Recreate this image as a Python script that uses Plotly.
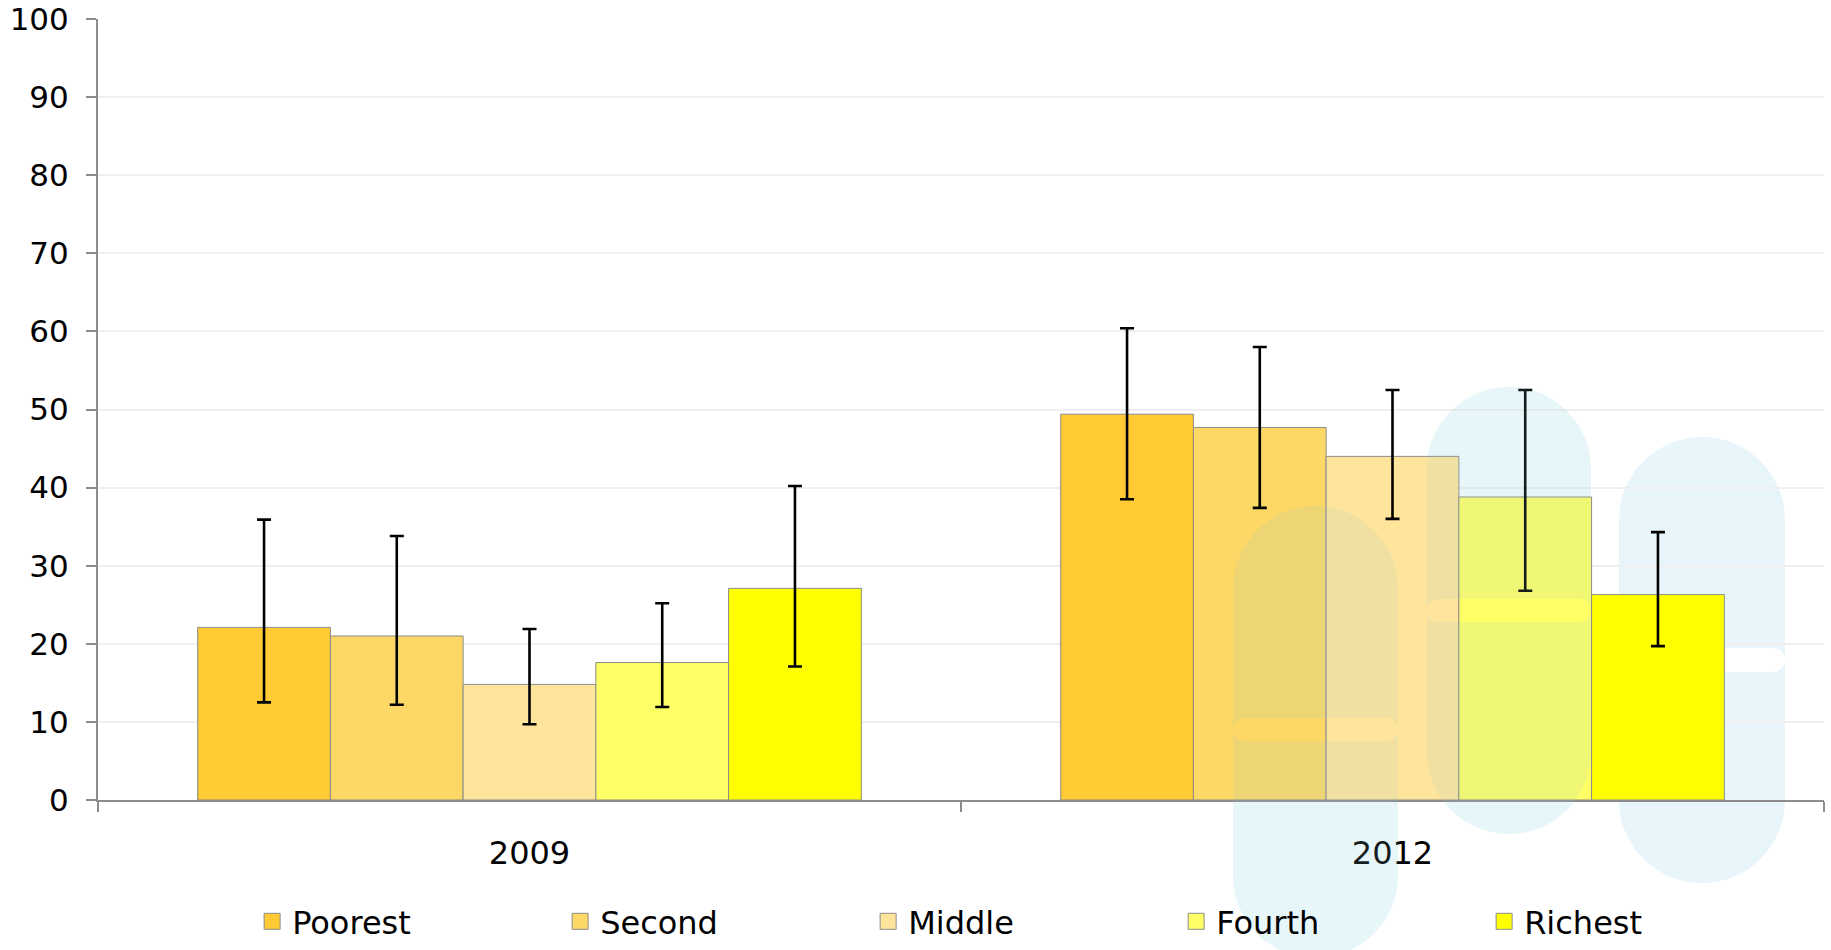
import plotly.graph_objects as go

years = ["2009", "2012"]
groups = ["Poorest", "Second", "Middle", "Fourth", "Richest"]
values = {
    "Poorest": [22.1, 49.4],
    "Second": [21.0, 47.7],
    "Middle": [14.8, 44.0],
    "Fourth": [17.6, 38.8],
    "Richest": [27.1, 26.3],
}
upper = {
    "Poorest": [35.9, 60.4],
    "Second": [33.8, 58.0],
    "Middle": [21.9, 52.5],
    "Fourth": [25.2, 52.5],
    "Richest": [40.2, 34.3],
}
lower = {
    "Poorest": [12.5, 38.5],
    "Second": [12.2, 37.4],
    "Middle": [9.7, 36.0],
    "Fourth": [11.9, 26.8],
    "Richest": [17.1, 19.7],
}
colors = ["#FFCA33", "#FDD866", "#FFE59B", "#FFFF66", "#FFFF00"]
y_ticks = list(range(0, 101, 10))

W, H = 1831, 950
ML, MR, MT, MB = 98, 7, 19, 150
PW, PH = W - ML - MR, H - MT - MB
FONT = "DejaVu Sans"

fig = go.Figure()
for g, c in zip(groups, colors):
    v = values[g]
    fig.add_trace(go.Bar(
        name=g, x=years, y=v,
        marker=dict(color=c, line=dict(color="#8C8C8C", width=1)),
        error_y=dict(type="data", symmetric=False,
                     array=[u - a for u, a in zip(upper[g], v)],
                     arrayminus=[a - l for a, l in zip(v, lower[g])],
                     color="black", thickness=2.6, width=7),
        showlegend=False,
    ))
    # legend proxy
    fig.add_trace(go.Scatter(
        name=g, x=[None], y=[None], mode="markers",
        marker=dict(symbol="square", size=16, color=c,
                    line=dict(color="#8C8C8C", width=1)),
        showlegend=True,
    ))

# watermark (decorative logo), pixel -> paper conversion
def P(px, py):
    return (px - ML) / PW, 1 - (py - MT) / PH

K = 0.5523

def capsule(x0, x1, y0, y1):
    r = (x1 - x0) / 2
    cx = (x0 + x1) / 2
    return [
        ("M", [(x0, y0 + r)]),
        ("C", [(x0, y0 + r - K * r), (cx - K * r, y0), (cx, y0)]),
        ("C", [(cx + K * r, y0), (x1, y0 + r - K * r), (x1, y0 + r)]),
        ("L", [(x1, y1 - r)]),
        ("C", [(x1, y1 - r + K * r), (cx + K * r, y1), (cx, y1)]),
        ("C", [(cx - K * r, y1), (x0, y1 - r + K * r), (x0, y1 - r)]),
        ("Z", []),
    ]

def stadium(x0, x1, y0, y1):
    r = (y1 - y0) / 2
    cy = (y0 + y1) / 2
    return [
        ("M", [(x0 + r, y0)]),
        ("L", [(x1 - r, y0)]),
        ("C", [(x1 - r + K * r, y0), (x1, cy - K * r), (x1, cy)]),
        ("C", [(x1, cy + K * r), (x1 - r + K * r, y1), (x1 - r, y1)]),
        ("L", [(x0 + r, y1)]),
        ("C", [(x0 + r - K * r, y1), (x0, cy + K * r), (x0, cy)]),
        ("C", [(x0, cy - K * r), (x0 + r - K * r, y0), (x0 + r, y0)]),
        ("Z", []),
    ]

def to_path(parts):
    s = ""
    for cmd, pts in parts:
        s += cmd
        s += " ".join("%.5f,%.5f" % P(x, y) for x, y in pts)
        s += " "
    return s.strip()

# (capsule, hole, tinted-over-bars)
logo = [
    ((1233, 1398, 506, 958), (1233, 1398, 718, 741), True),
    ((1427, 1591, 387, 834), (1427, 1591, 599, 622), True),
    ((1619, 1785, 437, 883), (1619, 1785, 648, 672), False),
]
for cap, hole, tint in logo:
    path = to_path(capsule(*cap) + stadium(*hole))
    if tint:
        fig.add_shape(type="path", path=path, xref="paper", yref="paper",
                      fillcolor="rgb(245,254,255)", opacity=1,
                      line=dict(width=0), layer="below", fillrule="evenodd")
        fig.add_shape(type="path", path=path, xref="paper", yref="paper",
                      fillcolor="rgb(150,195,205)", opacity=0.14,
                      line=dict(width=0), layer="above", fillrule="evenodd")
    else:
        fig.add_shape(type="path", path=path, xref="paper", yref="paper",
                      fillcolor="rgb(232,246,251)", opacity=1,
                      line=dict(width=0), layer="below", fillrule="evenodd")

fig.update_layout(
    width=W, height=H,
    margin=dict(l=ML, r=MR, t=MT, b=MB, pad=0, autoexpand=False),
    barmode="group", bargap=0.231, bargroupgap=0,
    plot_bgcolor="rgba(0,0,0,0)", paper_bgcolor="white",
    font=dict(family=FONT, size=32, color="black"),
    legend=dict(orientation="h", x=0.0893, xanchor="left",
                y=1 - (H - 1 - MT) / PH, yanchor="bottom",
                entrywidth=263, entrywidthmode="pixels",
                itemwidth=30, font=dict(family=FONT, size=32),
                bgcolor="rgba(0,0,0,0)", tracegroupgap=0),
    xaxis=dict(type="category", range=[-0.5, 1.5], showline=True,
               linecolor="#8C8C8C", linewidth=2, ticks="outside",
               tickson="boundaries", ticklen=10, tickwidth=2,
               tickcolor="#8C8C8C", showgrid=False, ticklabelstandoff=24,
               automargin=False,
               tickfont=dict(family=FONT, size=32, color="black")),
    yaxis=dict(range=[0, 100], tickvals=y_ticks, showline=True,
               linecolor="#8C8C8C", linewidth=2, ticks="outside", ticklen=10,
               tickwidth=2, tickcolor="#8C8C8C", gridcolor="#EFEFEF",
               gridwidth=2, zeroline=False, ticklabelstandoff=11,
               automargin=False,
               tickfont=dict(family=FONT, size=31, color="black")),
)

fig.write_html("out.html",
               config={"displayModeBar": False},
               post_script="document.body.style.margin='0';"
                           "document.body.style.overflow='hidden';")
